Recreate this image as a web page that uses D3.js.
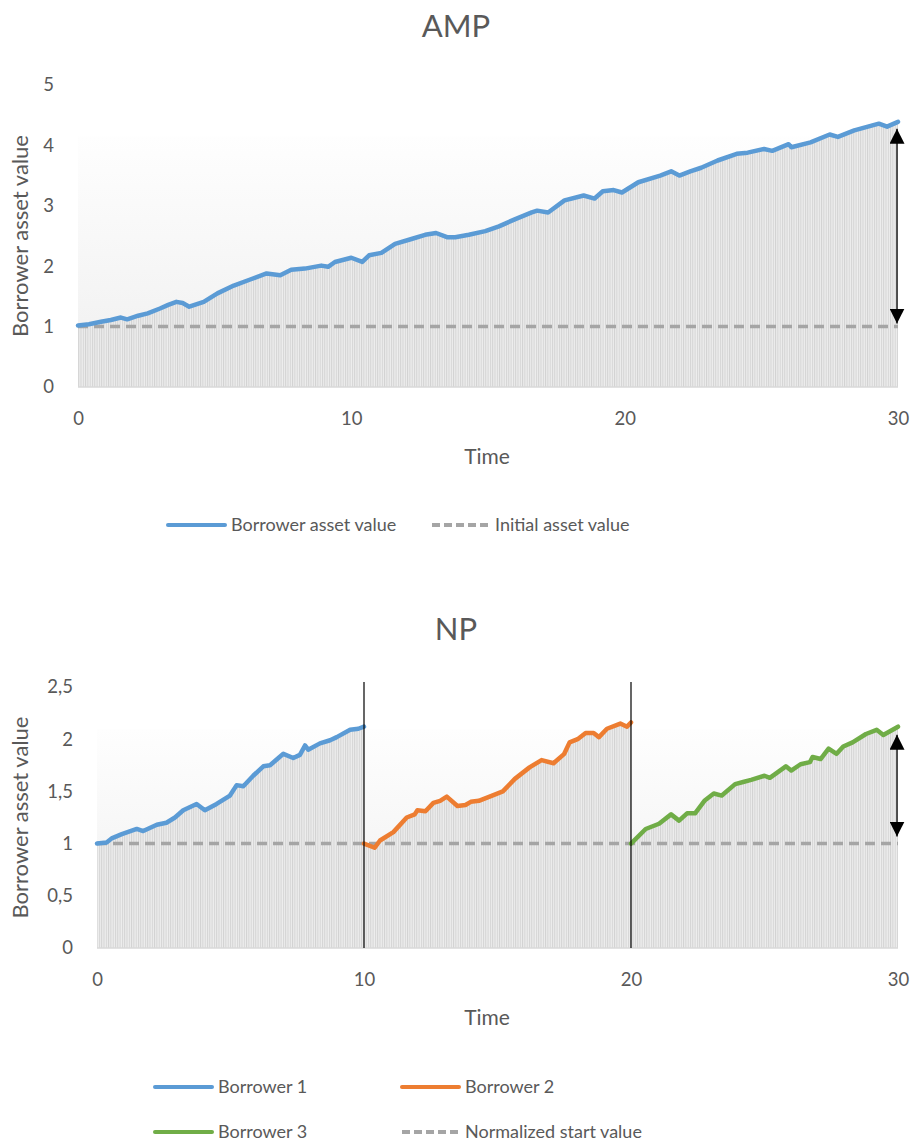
<!DOCTYPE html>
<html>
<head>
<meta charset="utf-8">
<script src="https://cdn.jsdelivr.net/npm/d3@7"></script>
<style>
  body { margin: 0; background: #fff; }
  text { font-family: Lato, "Open Sans", sans-serif; fill: #595959; }
</style>
</head>
<body>
<svg id="chart" width="912" height="1141"></svg>
<script>
// ---- AMP: one borrower over the full 30-year horizon ----
const ampTime = [0, 0.4, 0.84, 1.2, 1.57, 1.8, 2.2, 2.55, 3.0, 3.3,
  3.6, 3.83, 4.07, 4.6, 5.1, 5.7, 6.3, 6.9, 7.4, 7.8,
  8.3, 8.9, 9.15, 9.4, 10.0, 10.4, 10.65, 11.1, 11.6, 12.2,
  12.7, 13.1, 13.5, 13.8, 14.3, 14.9, 15.4, 16.0, 16.6, 16.8,
  17.2, 17.8, 18.5, 18.9, 19.2, 19.6, 19.9, 20.5, 21.3, 21.7,
  22.0, 22.4, 22.8, 23.4, 24.1, 24.5, 25.1, 25.4, 26.0, 26.1,
  26.8, 27.5, 27.8, 28.4, 28.9, 29.3, 29.6, 30];
const ampValue = [1.02, 1.04, 1.08, 1.11, 1.15, 1.12, 1.18, 1.22, 1.30, 1.36,
  1.41, 1.39, 1.33, 1.41, 1.55, 1.68, 1.78, 1.88, 1.85, 1.94,
  1.96, 2.01, 1.99, 2.07, 2.14, 2.07, 2.18, 2.22, 2.37, 2.45,
  2.52, 2.55, 2.48, 2.48, 2.52, 2.58, 2.66, 2.78, 2.89, 2.92,
  2.89, 3.09, 3.17, 3.12, 3.24, 3.26, 3.22, 3.39, 3.50, 3.57,
  3.50, 3.57, 3.63, 3.75, 3.86, 3.88, 3.94, 3.91, 4.02, 3.97,
  4.05, 4.18, 4.14, 4.25, 4.31, 4.36, 4.31, 4.39];

// ---- NP: three successive borrowers, each normalized to 1 at start ----
const b1Time = [0, 0.36, 0.55, 0.93, 1.49, 1.73, 2.24, 2.6, 2.92, 3.23,
  3.73, 4.04, 4.48, 4.98, 5.23, 5.48, 5.85, 6.23, 6.48, 6.98,
  7.35, 7.6, 7.79, 7.91, 8.35, 8.73, 8.98, 9.48, 9.79, 10];
const b1Value = [1.00, 1.01, 1.05, 1.09, 1.14, 1.12, 1.18, 1.20, 1.25, 1.32,
  1.38, 1.32, 1.38, 1.46, 1.56, 1.55, 1.65, 1.74, 1.75, 1.86,
  1.82, 1.85, 1.94, 1.90, 1.96, 1.99, 2.02, 2.09, 2.10, 2.12];

const b2Time = [10, 10.4, 10.6, 11.1, 11.6, 11.9, 12.0, 12.3, 12.6, 12.85,
  13.1, 13.5, 13.8, 14.0, 14.3, 14.8, 15.2, 15.65, 16.2, 16.65,
  17.1, 17.5, 17.7, 18.0, 18.3, 18.6, 18.8, 19.1, 19.6, 19.85, 20];
const b2Value = [1.00, 0.96, 1.03, 1.11, 1.25, 1.28, 1.32, 1.31, 1.39, 1.41,
  1.45, 1.36, 1.37, 1.40, 1.41, 1.46, 1.50, 1.62, 1.73, 1.80,
  1.77, 1.86, 1.97, 2.00, 2.06, 2.06, 2.02, 2.10, 2.15, 2.12, 2.16];

const b3Time = [20, 20.55, 21.05, 21.5, 21.8, 22.1, 22.4, 22.75, 23.1, 23.4,
  23.9, 24.2, 24.5, 25.0, 25.2, 25.8, 26.0, 26.35, 26.7, 26.8,
  27.1, 27.4, 27.7, 27.95, 28.3, 28.8, 29.2, 29.45, 30];
const b3Value = [1.00, 1.14, 1.19, 1.28, 1.22, 1.29, 1.29, 1.41, 1.48, 1.46,
  1.57, 1.59, 1.61, 1.65, 1.63, 1.74, 1.70, 1.76, 1.78, 1.83,
  1.81, 1.91, 1.86, 1.93, 1.97, 2.05, 2.09, 2.04, 2.12];

const xTicks = [0, 10, 20, 30];
const ampYTicks = [0, 1, 2, 3, 4, 5];
const npYTicks = [0, 0.5, 1, 1.5, 2, 2.5];
const startValue = 1;
const borrowerBreaks = [10, 20];
const ampShadeTop = 4.15;
const npShadeTop = 2.1;

const ampLegend = [
  { label: "Borrower asset value", color: "#5b9bd5", dashed: false },
  { label: "Initial asset value", color: "#a5a5a5", dashed: true }
];
const npLegend = [
  { label: "Borrower 1", color: "#5b9bd5", dashed: false },
  { label: "Borrower 2", color: "#ed7d31", dashed: false },
  { label: "Borrower 3", color: "#70ad47", dashed: false },
  { label: "Normalized start value", color: "#a5a5a5", dashed: true }
];

const zip = (ts, vs) => ts.map((t, i) => ({ t, v: vs[i] }));
const euro = d3.formatLocale({ decimal: ",", thousands: ".", grouping: [3], currency: ["", "€"] });
const fmt = euro.format("~g");

const svg = d3.select("#chart");
const defs = svg.append("defs");

// fine vertical hatching used under the asset paths
const pat = defs.append("pattern").attr("id", "hatch")
  .attr("patternUnits", "userSpaceOnUse").attr("width", 2.3).attr("height", 10);
pat.append("rect").attr("width", 2.3).attr("height", 10).attr("fill", "#ededed");
pat.append("rect").attr("width", 1).attr("height", 10).attr("fill", "#d3d3d3");

const grad = defs.append("linearGradient").attr("id", "shade")
  .attr("x1", 0).attr("y1", 0).attr("x2", 0).attr("y2", 1);
grad.append("stop").attr("offset", "0%").attr("stop-color", "#fefefe");
grad.append("stop").attr("offset", "100%").attr("stop-color", "#efefef");

const head = defs.append("marker").attr("id", "head")
  .attr("markerUnits", "userSpaceOnUse")
  .attr("markerWidth", 15).attr("markerHeight", 15)
  .attr("refX", 15).attr("refY", 7.5)
  .attr("orient", "auto-start-reverse");
head.append("path").attr("d", "M0,0 L15,7.5 L0,15 Z").attr("fill", "#000");

function panel(o) {
  const g = svg.append("g");
  const x = d3.scaleLinear().domain([0, 30]).range([o.left, o.right]);
  const y = d3.scaleLinear().domain([0, o.yMax]).range([o.bottom, o.top]);

  // title
  g.append("text").attr("x", 456).attr("y", o.titleY)
    .attr("text-anchor", "middle").style("font-size", "31px").text(o.title);

  // soft backdrop and baseline
  g.append("rect").attr("x", x(0)).attr("width", x(30) - x(0))
    .attr("y", y(o.shadeTop)).attr("height", y(0) - y(o.shadeTop))
    .attr("fill", "url(#shade)");

  const area = d3.area().x(d => x(d.t)).y0(y(0)).y1(d => y(d.v));
  const line = d3.line().x(d => x(d.t)).y(d => y(d.v));

  o.series.forEach(s => {
    g.append("path").datum(s.data).attr("d", area).attr("fill", "url(#hatch)");
  });

  g.append("line").attr("x1", x(0)).attr("x2", x(30))
    .attr("y1", y(0)).attr("y2", y(0))
    .attr("stroke", "#d9d9d9").attr("stroke-width", 1.5);

  // start-value reference
  g.append("line").attr("x1", x(0)).attr("x2", x(30))
    .attr("y1", y(startValue)).attr("y2", y(startValue))
    .attr("stroke", "#a5a5a5").attr("stroke-width", 3.5)
    .attr("stroke-dasharray", "10,6");

  o.series.forEach(s => {
    g.append("path").datum(s.data).attr("d", line)
      .attr("fill", "none").attr("stroke", s.color)
      .attr("stroke-width", 4.5).attr("stroke-linejoin", "round")
      .attr("stroke-linecap", "round");
  });

  (o.breaks || []).forEach(b => {
    g.append("line").attr("x1", x(b)).attr("x2", x(b))
      .attr("y1", y(0)).attr("y2", o.top - 5)
      .attr("stroke", "#000").attr("stroke-width", 1.2);
  });

  // gap between the final value and the start value
  const last = o.series[o.series.length - 1].data;
  const endV = last[last.length - 1].v;
  g.append("line").attr("x1", x(30) - 1).attr("x2", x(30) - 1)
    .attr("y1", y(endV) + o.arrowGapTop).attr("y2", y(startValue) - o.arrowGapBottom)
    .attr("stroke", "#000").attr("stroke-width", 1.3)
    .attr("marker-start", "url(#head)").attr("marker-end", "url(#head)");

  // axes
  const ya = g.append("g").attr("transform", `translate(${o.left},0)`)
    .call(d3.axisLeft(y).tickValues(o.yTicks).tickFormat(fmt).tickSize(0).tickPadding(24));
  ya.select(".domain").remove();
  ya.selectAll("text").style("font-size", "18.5px").attr("fill", "#595959");

  const xa = g.append("g").attr("transform", `translate(0,${o.bottom})`)
    .call(d3.axisBottom(x).tickValues(xTicks).tickFormat(fmt).tickSize(0).tickPadding(25));
  xa.select(".domain").remove();
  xa.selectAll("text").style("font-size", "18.5px").attr("fill", "#595959");

  g.append("text").attr("x", 487).attr("y", o.bottom + 77)
    .attr("text-anchor", "middle").style("font-size", "21px").text("Time");

  g.append("text")
    .attr("transform", `translate(28,${(o.top + o.bottom) / 2}) rotate(-90)`)
    .attr("text-anchor", "middle").style("font-size", "22px")
    .text("Borrower asset value");

  // legend
  o.legend.forEach((d, i) => {
    const lx = o.legendX[i % o.legendX.length];
    const ly = o.legendY[Math.floor(i / o.legendX.length)];
    g.append("line").attr("x1", lx).attr("x2", lx + 57).attr("y1", ly).attr("y2", ly)
      .attr("stroke", d.color).attr("stroke-width", 4)
      .attr("stroke-linecap", d.dashed ? "butt" : "round")
      .attr("stroke-dasharray", d.dashed ? "8,4" : null);
    g.append("text").attr("x", lx + 63).attr("y", ly).attr("dy", "0.36em")
      .style("font-size", "18px").text(d.label);
  });
}

panel({
  title: "AMP", titleY: 37,
  left: 78, right: 898, top: 85, bottom: 387, yMax: 5, yTicks: ampYTicks,
  shadeTop: ampShadeTop,
  series: [{ data: zip(ampTime, ampValue), color: "#5b9bd5" }],
  arrowGapTop: 7, arrowGapBottom: 3,
  legend: ampLegend, legendX: [168, 432], legendY: [525]
});

panel({
  title: "NP", titleY: 640,
  left: 97, right: 898, top: 687, bottom: 948, yMax: 2.5, yTicks: npYTicks,
  shadeTop: npShadeTop,
  series: [
    { data: zip(b1Time, b1Value), color: "#5b9bd5" },
    { data: zip(b2Time, b2Value), color: "#ed7d31" },
    { data: zip(b3Time, b3Value), color: "#70ad47" }
  ],
  breaks: borrowerBreaks,
  arrowGapTop: 8, arrowGapBottom: 7,
  legend: npLegend, legendX: [155, 402], legendY: [1087, 1132]
});
</script>
</body>
</html>
